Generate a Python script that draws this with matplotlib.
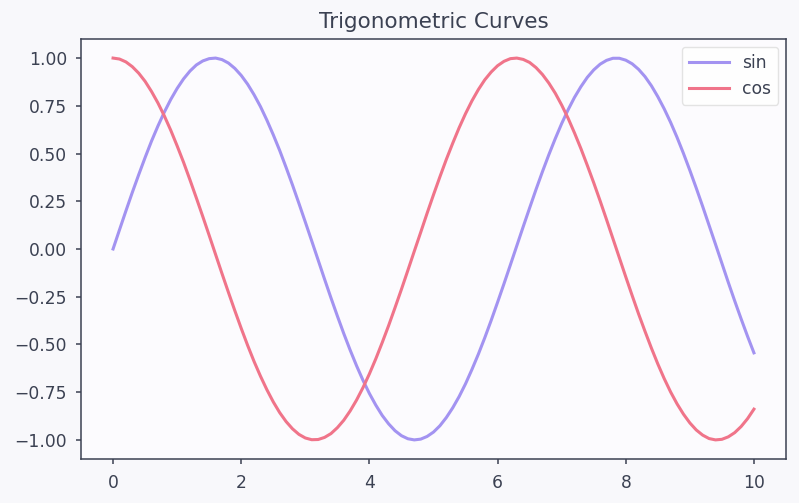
import matplotlib
matplotlib.use('Agg')
import matplotlib.pyplot as plt

# values, every 0.1 on x
x_vals = [i / 10 for i in range(101)]
sin_vals = [0.000, 0.100, 0.199, 0.296, 0.389, 0.479, 0.565, 0.644, 0.717, 0.783,
            0.841, 0.891, 0.932, 0.964, 0.985, 0.997, 1.000, 0.992, 0.974, 0.946,
            0.909, 0.863, 0.808, 0.746, 0.675, 0.598, 0.516, 0.427, 0.335, 0.239,
            0.141, 0.042, -0.058, -0.158, -0.256, -0.351, -0.443, -0.530, -0.612, -0.688,
            -0.757, -0.818, -0.872, -0.916, -0.952, -0.978, -0.994, -1.000, -0.996, -0.982,
            -0.959, -0.926, -0.883, -0.832, -0.773, -0.706, -0.631, -0.551, -0.465, -0.374,
            -0.279, -0.182, -0.083, 0.017, 0.117, 0.215, 0.312, 0.405, 0.494, 0.578,
            0.657, 0.729, 0.794, 0.850, 0.899, 0.938, 0.968, 0.988, 0.999, 0.999,
            0.989, 0.970, 0.941, 0.903, 0.855, 0.798, 0.734, 0.663, 0.585, 0.501,
            0.412, 0.319, 0.223, 0.124, 0.025, -0.075, -0.175, -0.272, -0.366, -0.457,
            -0.544]
cos_vals = [1.000, 0.995, 0.980, 0.955, 0.921, 0.878, 0.825, 0.765, 0.697, 0.622,
            0.540, 0.454, 0.362, 0.267, 0.170, 0.071, -0.029, -0.129, -0.227, -0.323,
            -0.416, -0.505, -0.589, -0.666, -0.737, -0.801, -0.857, -0.904, -0.942, -0.971,
            -0.990, -0.999, -0.998, -0.987, -0.967, -0.936, -0.897, -0.848, -0.791, -0.726,
            -0.654, -0.575, -0.490, -0.401, -0.307, -0.211, -0.112, -0.012, 0.087, 0.187,
            0.284, 0.378, 0.469, 0.554, 0.635, 0.709, 0.776, 0.835, 0.886, 0.927,
            0.960, 0.983, 0.997, 1.000, 0.993, 0.977, 0.950, 0.914, 0.869, 0.816,
            0.754, 0.685, 0.608, 0.526, 0.438, 0.347, 0.252, 0.154, 0.054, -0.046,
            -0.146, -0.244, -0.340, -0.431, -0.519, -0.602, -0.679, -0.749, -0.811, -0.865,
            -0.911, -0.948, -0.975, -0.993, -1.000, -0.997, -0.984, -0.962, -0.930, -0.889,
            -0.839]
y_ticks = [-1.0, -0.75, -0.5, -0.25, 0.0, 0.25, 0.5, 0.75, 1.0]
x_ticks = [0, 2, 4, 6, 8, 10]

text_col = '#3b4152'
plt.rcParams['font.family'] = ['DejaVu Sans']
plt.rcParams['text.color'] = text_col
plt.rcParams['xtick.color'] = text_col
plt.rcParams['ytick.color'] = text_col

fig, ax = plt.subplots(figsize=(7.99, 5.03), dpi=100)
fig.patch.set_facecolor('#f8f8fb')
ax.set_facecolor('#fcfbfe')
fig.subplots_adjust(left=0.1014, right=0.9837, top=0.9225, bottom=0.0875)

ax.plot(x_vals, sin_vals, color='#a393f1', lw=2.2, label='sin', solid_joinstyle='round')
ax.plot(x_vals, cos_vals, color='#f0748a', lw=2.2, label='cos', solid_joinstyle='round')

ax.set_title('Trigonometric Curves', fontsize=15.5, color=text_col, pad=8)
ax.set_yticks(y_ticks)
ax.set_yticklabels([f'{v:.2f}'.replace('-', '\u2212') for v in y_ticks])
ax.set_xticks(x_ticks)
ax.tick_params(labelsize=12.3, length=3.6, width=1.1)
ax.tick_params(axis='y', pad=6.5)
ax.tick_params(axis='x', pad=7)
for s in ax.spines.values():
    s.set_color(text_col)
    s.set_linewidth(1.1)
ax.set_xlim(-0.5, 10.5)
ax.set_ylim(-1.1, 1.1)
ax.legend(loc='upper right', fontsize=12.3, frameon=True, edgecolor='#dddddd',
          handlelength=2.35, borderaxespad=0.45)

fig.savefig('out.png', dpi=100, facecolor=fig.get_facecolor())
